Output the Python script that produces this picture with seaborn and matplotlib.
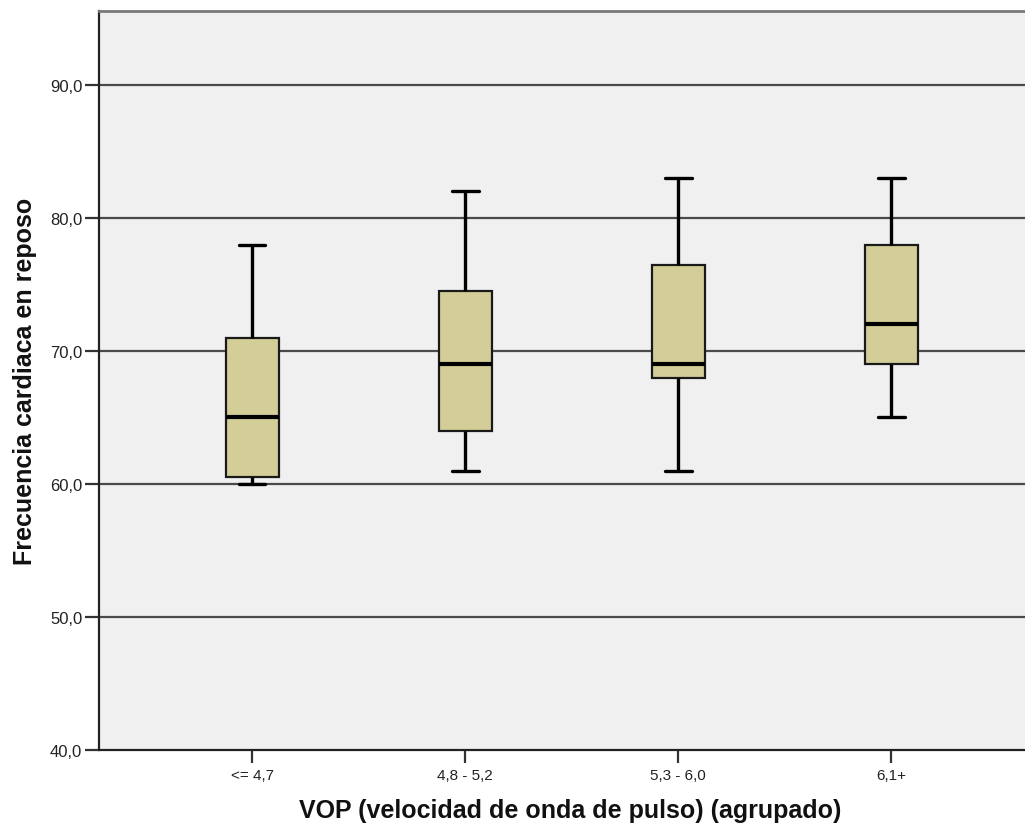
import numpy as np
import pandas as pd
import matplotlib
matplotlib.use("Agg")
import matplotlib.pyplot as plt
import seaborn as sns

# Data (five-number summaries per group)
categories = ["<= 4,7", "4,8 - 5,2", "5,3 - 6,0", "6,1+"]
whisker_low = [60.0, 61.0, 61.0, 65.0]
q1_values = [60.5, 64.0, 68.0, 69.0]
medians = [65.0, 69.0, 69.0, 72.0]
q3_values = [71.0, 74.5, 76.5, 78.0]
whisker_high = [78.0, 82.0, 83.0, 83.0]
y_ticks = [40, 50, 60, 70, 80, 90]
y_tick_labels = ["40,0", "50,0", "60,0", "70,0", "80,0", "90,0"]

# Build a small table whose quartiles reproduce the summaries exactly
rows = []
for cat, lo, a, m, b, hi in zip(categories, whisker_low, q1_values, medians, q3_values, whisker_high):
    for v in (lo, a, m, b, hi):
        rows.append({"grupo": cat, "fc": v})
df = pd.DataFrame(rows)

sns.set_theme(style="white")
plt.rcParams["font.family"] = ["Liberation Sans", "DejaVu Sans"]

fig = plt.figure(figsize=(10.25, 8.29), dpi=100)
ax = fig.add_axes([99 / 1025, 78 / 829, 1 - 99 / 1025 + 0.01, (751 - 12) / 829])
ax.set_facecolor("#f0f0f0")

sns.boxplot(
    data=df, x="grupo", y="fc", order=categories, ax=ax,
    width=0.25, whis=(0, 100), color="#d3ce97", saturation=1,
    boxprops=dict(facecolor="#d3ce97", edgecolor="#1a1a1a", linewidth=1.6),
    whiskerprops=dict(color="black", linewidth=2.4),
    capprops=dict(color="black", linewidth=2.4),
    medianprops=dict(color="black", linewidth=3.0),
    showfliers=False, zorder=3,
)

for yv in y_ticks[1:]:
    ax.axhline(yv, color="#4a4a4a", linewidth=1.6, zorder=1)

ax.set_ylim(40, 95.56)
ax.set_xlim(-0.719, 3.676)
ax.set_yticks(y_ticks)
ax.set_yticklabels(y_tick_labels)
ax.tick_params(axis="y", direction="out", length=10, width=1.6, color="#333333",
               labelsize=12, labelcolor="#222222", pad=2, left=True)
ax.tick_params(axis="x", direction="out", length=9, width=1.6, color="#333333",
               labelsize=11, labelcolor="#222222", pad=4, bottom=True)

for s in ["left", "bottom"]:
    ax.spines[s].set_color("#222222")
    ax.spines[s].set_linewidth(1.6)
ax.spines["top"].set_color("#7a7a7a")
ax.spines["top"].set_linewidth(2.0)
ax.spines["right"].set_visible(False)

ax.set_xlabel("VOP (velocidad de onda de pulso) (agrupado)", fontsize=18,
              fontweight="bold", color="#111111")
ax.set_ylabel("Frecuencia cardiaca en reposo", fontsize=18,
              fontweight="bold", color="#111111")
ax.xaxis.set_label_coords((565 - 99) / 926, -(799 - 751) / 739)
ax.yaxis.set_label_coords(-(99 - 38) / 926, (751 - 381) / 739)

fig.savefig("out.png", dpi=100, facecolor="white")
